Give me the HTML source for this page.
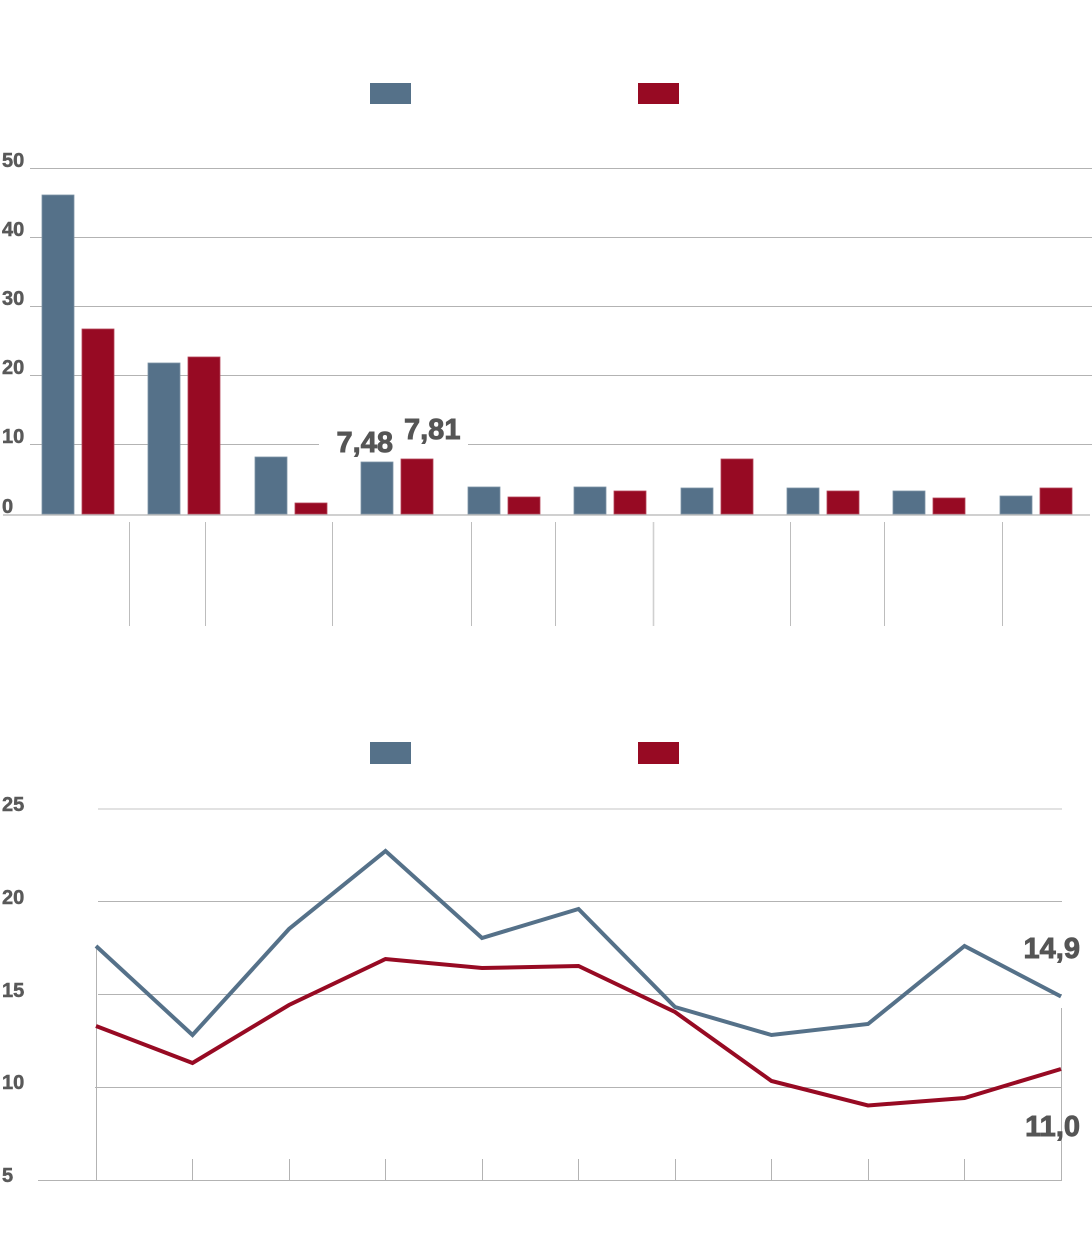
<!DOCTYPE html>
<html>
<head>
<meta charset="utf-8">
<style>
  html, body { margin: 0; padding: 0; background: #ffffff; }
  body { width: 1092px; height: 1238px; overflow: hidden; }
  svg { display: block; }
  .ax { font-family: "Liberation Sans", "DejaVu Sans", sans-serif; font-weight: bold; font-size: 20px; fill: #595959; stroke: #595959; stroke-width: 0.5; }
  .lbl { font-family: "Liberation Sans", "DejaVu Sans", sans-serif; font-weight: bold; font-size: 29px; fill: #555555; stroke: #555555; stroke-width: 0.9; }
</style>
</head>
<body>
<svg width="1092" height="1238" viewBox="0 0 1092 1238" xmlns="http://www.w3.org/2000/svg">
  <!-- ===== TOP CHART ===== -->
  <rect x="370" y="83" width="41" height="21" fill="#557189"/>
  <rect x="638" y="83" width="41" height="21" fill="#970a23"/>

  <g stroke="#b3b3b3" stroke-width="1">
    <line x1="30" y1="168.5" x2="1092" y2="168.5"/>
    <line x1="30" y1="237.5" x2="1092" y2="237.5"/>
    <line x1="30" y1="306.5" x2="1092" y2="306.5"/>
    <line x1="30" y1="375.5" x2="1092" y2="375.5"/>
    <line x1="30" y1="444.5" x2="1092" y2="444.5"/>
  </g>
  <rect x="319" y="416" width="149" height="40" fill="#ffffff"/>

  <text class="ax" x="2" y="167">50</text>
  <text class="ax" x="2" y="236">40</text>
  <text class="ax" x="2" y="305">30</text>
  <text class="ax" x="2" y="374">20</text>
  <text class="ax" x="2" y="443">10</text>
  <text class="ax" x="2" y="513">0</text>

  <g fill="#557189" stroke="#7d93a6" stroke-width="0.8">
    <rect x="42" y="195" width="32" height="319"/>
    <rect x="148" y="363" width="32" height="151"/>
    <rect x="255" y="457" width="32" height="57"/>
    <rect x="361" y="462" width="32" height="52"/>
    <rect x="468" y="487" width="32" height="27"/>
    <rect x="574" y="487" width="32" height="27"/>
    <rect x="681" y="488" width="32" height="26"/>
    <rect x="787" y="488" width="32" height="26"/>
    <rect x="893" y="491" width="32" height="23"/>
    <rect x="1000" y="496" width="32" height="18"/>
  </g>
  <g fill="#970a23" stroke="#b54458" stroke-width="0.8">
    <rect x="82" y="329" width="32" height="185"/>
    <rect x="188" y="357" width="32" height="157"/>
    <rect x="295" y="503" width="32" height="11"/>
    <rect x="401" y="459" width="32" height="55"/>
    <rect x="508" y="497" width="32" height="17"/>
    <rect x="614" y="491" width="32" height="23"/>
    <rect x="721" y="459" width="32" height="55"/>
    <rect x="827" y="491" width="32" height="23"/>
    <rect x="933" y="498" width="32" height="16"/>
    <rect x="1040" y="488" width="32" height="26"/>
  </g>

  <line x1="3" y1="515" x2="1090" y2="515" stroke="#b3b3b3" stroke-width="1.2"/>

  <text class="lbl" x="393" y="452" text-anchor="end">7,48</text>
  <text class="lbl" x="404" y="439">7,81</text>

  <g stroke="#bdbdbd" stroke-width="1">
    <line x1="129.5" y1="522" x2="129.5" y2="626"/>
    <line x1="205.5" y1="522" x2="205.5" y2="626"/>
    <line x1="332.5" y1="522" x2="332.5" y2="626"/>
    <line x1="471.5" y1="522" x2="471.5" y2="626"/>
    <line x1="555.5" y1="522" x2="555.5" y2="626"/>
    <line x1="653.5" y1="522" x2="653.5" y2="626" stroke="#d0d0d0" stroke-width="1.6"/>
    <line x1="790.5" y1="522" x2="790.5" y2="626"/>
    <line x1="884.5" y1="522" x2="884.5" y2="626"/>
    <line x1="1002.5" y1="522" x2="1002.5" y2="626"/>
  </g>

  <!-- ===== BOTTOM CHART ===== -->
  <rect x="370" y="742" width="41" height="22" fill="#557189"/>
  <rect x="638" y="742" width="41" height="22" fill="#970a23"/>

  <line x1="98" y1="809" x2="1062" y2="809" stroke="#d9d9d9" stroke-width="1.6"/>
  <g stroke="#b3b3b3" stroke-width="1">
    <line x1="98" y1="901.5" x2="1062" y2="901.5"/>
    <line x1="98" y1="994.5" x2="1062" y2="994.5"/>
    <line x1="95" y1="1087.5" x2="1062" y2="1087.5"/>
    <line x1="38" y1="1180.5" x2="1062" y2="1180.5"/>
    <line x1="96.5" y1="948" x2="96.5" y2="1180"/>
    <line x1="1061.5" y1="1008" x2="1061.5" y2="1180"/>
    <line x1="192.5" y1="1159" x2="192.5" y2="1180"/>
    <line x1="289.5" y1="1159" x2="289.5" y2="1180"/>
    <line x1="385.5" y1="1159" x2="385.5" y2="1180"/>
    <line x1="482.5" y1="1159" x2="482.5" y2="1180"/>
    <line x1="578.5" y1="1159" x2="578.5" y2="1180"/>
    <line x1="675.5" y1="1159" x2="675.5" y2="1180"/>
    <line x1="771.5" y1="1159" x2="771.5" y2="1180"/>
    <line x1="868.5" y1="1159" x2="868.5" y2="1180"/>
    <line x1="964.5" y1="1159" x2="964.5" y2="1180"/>
  </g>

  <text class="ax" x="2" y="811">25</text>
  <text class="ax" x="2" y="904">20</text>
  <text class="ax" x="2" y="997">15</text>
  <text class="ax" x="2" y="1089">10</text>
  <text class="ax" x="2" y="1182">5</text>

  <polyline fill="none" stroke="#970a23" stroke-width="4" stroke-linejoin="miter"
    points="96,1026 192.5,1063 289,1005 385.5,959 482,968 578.5,966 675,1012 771.5,1081 868,1105.5 964.5,1098 1061,1069"/>
  <polyline fill="none" stroke="#557189" stroke-width="4" stroke-linejoin="miter"
    points="96,946 192.5,1035 289,929 385.5,851 482,938 578.5,909 675,1007 771.5,1035 868,1024 964.5,946 1061,996.5"/>

  <text class="lbl" x="1080" y="958" text-anchor="end">14,9</text>
  <text class="lbl" x="1080" y="1136" text-anchor="end">11,0</text>
</svg>
</body>
</html>
